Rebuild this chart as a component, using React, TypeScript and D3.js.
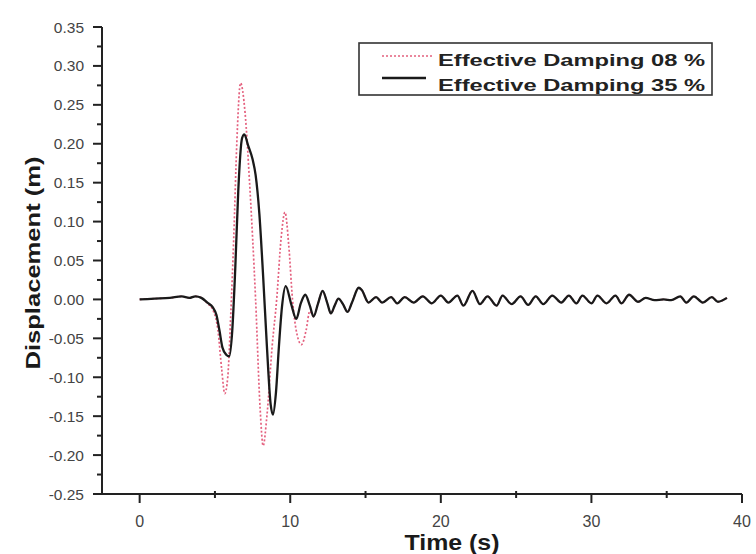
import React from "react";
import * as d3 from "d3";

// ---- Data ----
const timeBlack = [
  0, 1, 2, 2.8, 3.3, 3.7, 4.1, 4.5, 4.85, 5.1, 5.3, 5.5, 5.75, 5.95, 6.15, 6.35, 6.55, 6.8, 6.95, 7.2,
  7.5, 7.7, 7.95, 8.2, 8.45, 8.7, 8.85, 9.05, 9.25, 9.45, 9.7, 10.05, 10.4, 10.7, 11.0, 11.3, 11.55, 11.85,
  12.15, 12.45, 12.7, 12.95, 13.2, 13.5, 13.8, 14.1, 14.55, 14.75, 15.2, 15.7, 16.1, 16.7, 17.1, 17.6,
  18.2, 18.8, 19.4, 20.0, 20.5, 21.1, 21.5, 22.1, 22.6, 23.1, 23.7, 24.1, 24.7, 25.3, 25.8, 26.3, 26.8,
  27.4, 28.0, 28.5, 29.0, 29.4, 30.0, 30.4, 31.0, 31.6, 32.0, 32.5, 33.1, 33.6, 34.2, 34.8, 35.3, 35.9,
  36.3, 36.8, 37.4, 38.0, 38.4, 39.0,
];
const dispBlack = [
  0, 0.001, 0.002, 0.004, 0.002, 0.004, 0.002, -0.004, -0.01, -0.02, -0.04, -0.062, -0.071, -0.073, -0.04,
  0.04, 0.14, 0.207, 0.212, 0.198, 0.18, 0.16, 0.11, 0.03, -0.06, -0.135, -0.148, -0.12, -0.06, -0.01,
  0.017, -0.005, -0.025, -0.005, 0.006, -0.008, -0.022, -0.005, 0.011, -0.004, -0.018, -0.008, 0.001,
  -0.006, -0.016, -0.004, 0.015, 0.012, -0.004, 0.003, -0.004, 0.003, -0.005, 0.003, -0.004, 0.004,
  -0.005, 0.005, -0.004, 0.005, -0.008, 0.011, -0.006, 0.004, -0.008, 0.005, -0.006, 0.004, -0.007,
  0.004, -0.006, 0.005, -0.004, 0.005, -0.005, 0.005, -0.005, 0.005, -0.005, 0.005, -0.005, 0.006,
  -0.003, 0.002, -0.001, 0.0, -0.001, 0.004, -0.004, 0.004, -0.004, 0.003, -0.003, 0.002,
];

const timeRed = [
  0, 1, 2, 2.8, 3.3, 3.7, 4.1, 4.5, 4.9, 5.2, 5.45, 5.65, 5.85, 6.05, 6.25, 6.45, 6.7, 7.0, 7.3, 7.7,
  8.0, 8.2, 8.45, 8.8, 9.1, 9.4, 9.65, 9.9, 10.15, 10.45, 10.75, 11.05, 11.3,
];
const dispRed = [
  0, 0.001, 0.002, 0.004, 0.002, 0.004, 0.002, -0.005, -0.015, -0.04, -0.09, -0.121, -0.1, -0.02, 0.08,
  0.2, 0.278, 0.24, 0.15, 0.0, -0.14, -0.188, -0.15, -0.06, 0.0, 0.08, 0.112, 0.07, 0.0, -0.045, -0.058,
  -0.04, -0.015,
];

const xTicks = [0, 10, 20, 30, 40];
const xMinorTicks = [5, 15, 25, 35];
const yTicks = [0.35, 0.3, 0.25, 0.2, 0.15, 0.1, 0.05, 0.0, -0.05, -0.1, -0.15, -0.2, -0.25];
const yMinorTicks = [0.325, 0.275, 0.225, 0.175, 0.125, 0.075, 0.025, -0.025, -0.075, -0.125, -0.175, -0.225];

const legendLabels = ["Effective Damping 08 %", "Effective Damping 35 %"];

export default function App() {
  const W = 756;
  const H = 554;
  const x = d3.scaleLinear().domain([-2.5, 40]).range([102, 742]);
  const y = d3.scaleLinear().domain([-0.25, 0.35]).range([494, 27]);

  const black = timeBlack.map((t, i) => [t, dispBlack[i]] as [number, number]);
  const redHead = timeRed.map((t, i) => [t, dispRed[i]] as [number, number]);
  const red = redHead.concat(black.filter((p) => p[0] > 11.4));

  const line = d3
    .line<[number, number]>()
    .x((d) => x(d[0]))
    .y((d) => y(d[1]))
    .curve(d3.curveMonotoneX);

  const fmt = (v: number) => d3.format(".2f")(v).replace("\u2212", "-");
  const x0 = x(-2.5);
  const yBase = y(-0.25);
  const tickFont = "'Liberation Sans', Arial, sans-serif";
  const redColor = "#e4607e";

  return (
    <svg
      width={W}
      height={H}
      style={{ position: "absolute", left: 0, top: 0, background: "#fff" }}
    >
      <rect x={0} y={0} width={W} height={H} fill="#fff" />
      {/* curves */}
      <path
        d={line(red) || ""}
        fill="none"
        stroke={redColor}
        strokeWidth={1.7}
        strokeDasharray="2,2"
      />
      <path d={line(black) || ""} fill="none" stroke="#1a1a1a" strokeWidth={2.3} strokeLinejoin="round" />

      {/* y axis */}
      <line x1={x0} x2={x0} y1={y(0.35)} y2={yBase + 1} stroke="#222" strokeWidth={2} />
      {yTicks.map((v) => (
        <g key={"yt" + v}>
          <line x1={x0 - 9} x2={x0} y1={y(v)} y2={y(v)} stroke="#222" strokeWidth={2} />
          <text
            x={x0 - 18}
            y={y(v)}
            dy="0.36em"
            textAnchor="end"
            fontFamily={tickFont}
            fontSize={15.5}
            fill="#444"
          >
            {fmt(v)}
          </text>
        </g>
      ))}
      {yMinorTicks.map((v) => (
        <line key={"ym" + v} x1={x0 - 5} x2={x0} y1={y(v)} y2={y(v)} stroke="#222" strokeWidth={2} />
      ))}

      {/* x axis */}
      <line x1={x0 - 1} x2={x(40)} y1={yBase} y2={yBase} stroke="#222" strokeWidth={2} />
      {xTicks.map((v) => (
        <g key={"xt" + v}>
          <line x1={x(v)} x2={x(v)} y1={yBase} y2={yBase + 9} stroke="#222" strokeWidth={2} />
          <text
            x={x(v)}
            y={yBase + 33}
            textAnchor="middle"
            fontFamily={tickFont}
            fontSize={16}
            fill="#444"
          >
            {v}
          </text>
        </g>
      ))}
      {xMinorTicks.map((v) => (
        <line key={"xm" + v} x1={x(v)} x2={x(v)} y1={yBase - 3} y2={yBase + 4} stroke="#222" strokeWidth={2} />
      ))}

      {/* axis titles */}
      <text
        x={452}
        y={550}
        textAnchor="middle"
        fontFamily={tickFont}
        fontWeight="bold"
        fontSize={22}
        fill="#1a1a1a"
        textLength={95}
        lengthAdjust="spacingAndGlyphs"
      >
        Time (s)
      </text>
      <text
        transform={`translate(40,${263}) rotate(-90)`}
        textAnchor="middle"
        fontFamily={tickFont}
        fontWeight="bold"
        fontSize={21}
        fill="#1a1a1a"
        textLength={213}
        lengthAdjust="spacingAndGlyphs"
      >
        Displacement (m)
      </text>

      {/* legend */}
      <rect x={359} y={43} width={353} height={52} fill="#fff" stroke="#333" strokeWidth={1.6} />
      <line x1={382} x2={432} y1={56} y2={56} stroke={redColor} strokeWidth={1.7} strokeDasharray="2,2" />
      <line x1={382} x2={426} y1={78} y2={78} stroke="#1a1a1a" strokeWidth={2.3} />
      {legendLabels.map((l, i) => (
        <text
          key={l}
          x={438}
          y={66 + i * 25}
          fontFamily={tickFont}
          fontWeight="bold"
          fontSize={16}
          fill="#222"
          textLength={267}
          lengthAdjust="spacingAndGlyphs"
        >
          {l}
        </text>
      ))}
    </svg>
  );
}
